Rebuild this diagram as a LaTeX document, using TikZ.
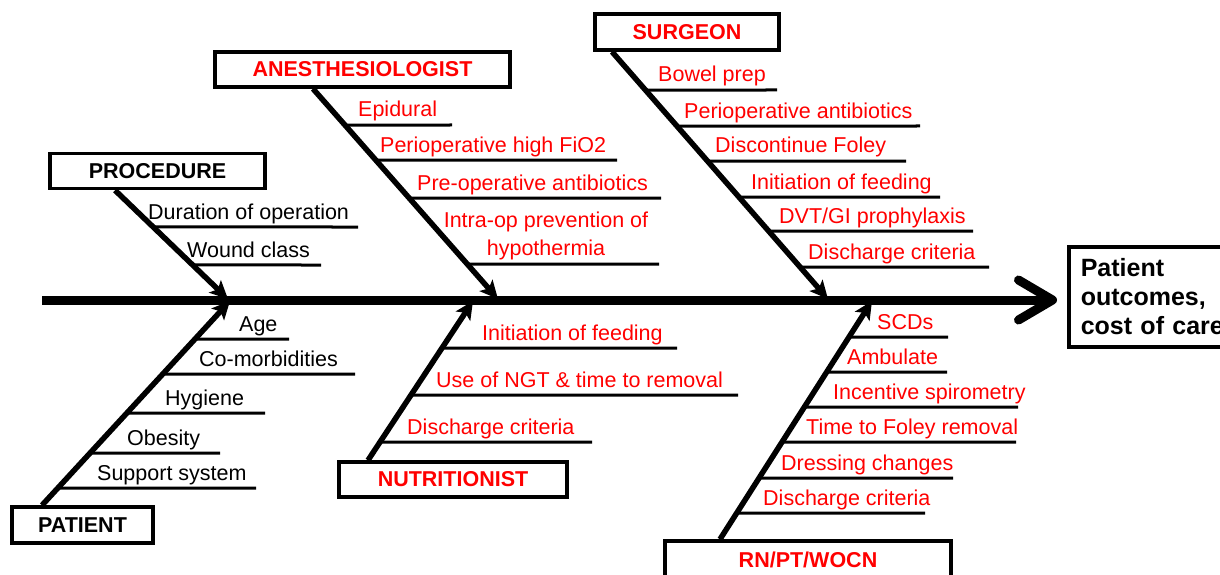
\documentclass[tikz,border=0pt]{standalone}
\usepackage{fontspec}
\setmainfont{Liberation Sans}
\usetikzlibrary{arrows.meta}

\begin{document}
\begin{tikzpicture}[x=1pt,y=-1pt,
  catbox/.style={draw,line width=3.5pt,inner sep=0pt,font=\fontsize{21.5}{26}\selectfont\bfseries},
  spine/.style={line width=9pt,-{Straight Barb[length=34pt,width=40pt,round]},shorten >=10pt},
  bone/.style={line width=5.5pt,-{Stealth[length=18pt,width=17pt,inset=4pt]}},
  rib/.style={line width=3pt},
  item/.style={inner sep=0pt,anchor=base west,font=\fontsize{21.5}{28}\selectfont}]
\useasboundingbox (0,0) rectangle (1220,575);

\node[catbox,anchor=west,align=left,text width=150pt,inner xsep=12pt,minimum height=100pt,
  font=\fontsize{25}{29}\selectfont\bfseries] (outcome) at (1067,297) {Patient\\outcomes,\\cost of care};
\coordinate (spineS) at (42,300);
\draw[spine] (spineS) -- (spineS -| outcome.west);

\node[catbox,minimum width=215pt,minimum height=35pt] (proc) at (157.5,171) {PROCEDURE};
\node[catbox,minimum width=141pt,minimum height=36pt] (pat) at (82.5,525) {PATIENT};
\node[catbox,text=red,minimum width=295pt,minimum height=35pt] (anes) at (362.5,69.5) {ANESTHESIOLOGIST};
\node[catbox,text=red,minimum width=184pt,minimum height=36pt] (surg) at (687,32) {SURGEON};
\node[catbox,text=red,minimum width=228pt,minimum height=35pt] (nutr) at (453,479.5) {NUTRITIONIST};
\node[catbox,text=red,minimum width=286pt,minimum height=38pt] (rn) at (808,560) {RN/PT/WOCN};

\coordinate (procA) at (proc.south -| 115,0);
\coordinate (procT) at (228,299);
\coordinate (patA) at (pat.north -| 42,0);
\coordinate (patT) at (230,301);
\coordinate (anesA) at (anes.south -| 313,0);
\coordinate (anesT) at (498,299);
\coordinate (surgA) at (surg.south -| 612,0);
\coordinate (surgT) at (828,299);
\coordinate (nutrA) at (nutr.north -| 368,0);
\coordinate (nutrT) at (473,301);
\coordinate (rnA) at (rn.north -| 720,0);
\coordinate (rnT) at (872,301);

\foreach \b in {proc,pat,anes,surg,nutr,rn}
  \draw[bone] (\b A) -- (\b T);

\foreach \y/\xe/\xt/\txt [count=\i] in {227/358/148/{Duration of operation},265/321/187/{Wound class}}{
  \draw[rib] (intersection of procA--procT and 0,\y--10,\y) -- (\xe,\y);
  \node[item] (proc\i) at (\xt,\y-8) {\txt};
}

\foreach \y/\xe/\xt/\txt [count=\i] in {339/289/239/{Age},374/355/199/{Co-morbidities},
    413/265/165/{Hygiene},453/220/127/{Obesity},488/256/97/{Support system}}{
  \draw[rib] (intersection of patA--patT and 0,\y--10,\y) -- (\xe,\y);
  \node[item] (pat\i) at (\xt,\y-8) {\txt};
}

\foreach \y/\xe/\xt/\txt [count=\i] in {125/452/358/{Epidural},160/617/380/{Perioperative high FiO2},
    198/661/417/{Pre-operative antibiotics}}{
  \draw[rib] (intersection of anesA--anesT and 0,\y--10,\y) -- (\xe,\y);
  \node[item,text=red] (anes\i) at (\xt,\y-8) {\txt};
}
\draw[rib] (intersection of anesA--anesT and 0,264--10,264) -- (659,264);
\node[item,text=red,anchor=south,align=center] (anes4) at (546,260) {Intra-op prevention of\\hypothermia};

\foreach \y/\xe/\xt/\txt [count=\i] in {90/777/658/{Bowel prep},126/920/684/{Perioperative antibiotics},
    161/906/715/{Discontinue Foley},197/940/751/{Initiation of feeding},
    231/973/779/{DVT/GI prophylaxis},267/989/808/{Discharge criteria}}{
  \draw[rib] (intersection of surgA--surgT and 0,\y--10,\y) -- (\xe,\y);
  \node[item,text=red] (surg\i) at (\xt,\y-8) {\txt};
}

\foreach \y/\xe/\xt/\txt [count=\i] in {348/677/482/{Initiation of feeding},
    395/738/436/{Use of NGT \& time to removal},442/592/407/{Discharge criteria}}{
  \draw[rib] (intersection of nutrA--nutrT and 0,\y--10,\y) -- (\xe,\y);
  \node[item,text=red] (nutr\i) at (\xt,\y-8) {\txt};
}

\foreach \y/\xe/\xt/\txt [count=\i] in {337/948/877/{SCDs},372/947/847/{Ambulate},
    407/1018/833/{Incentive spirometry},442/1016/806/{Time to Foley removal},
    478/953/781/{Dressing changes},513/925/763/{Discharge criteria}}{
  \draw[rib] (intersection of rnA--rnT and 0,\y--10,\y) -- (\xe,\y);
  \node[item,text=red] (rn\i) at (\xt,\y-8) {\txt};
}
\end{tikzpicture}
\end{document}
